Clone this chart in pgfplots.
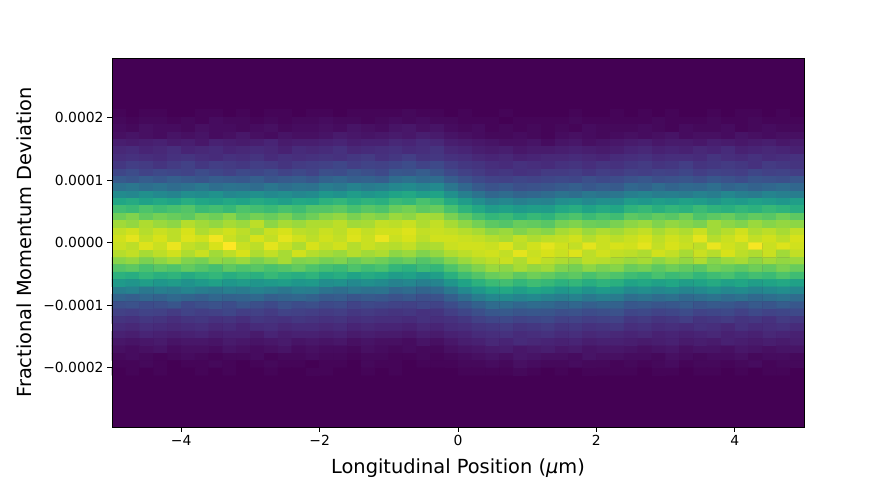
\documentclass[border=0pt]{standalone}
\usepackage{pgfplots}
\pgfplotsset{compat=1.18}
\usepackage{fontspec}
\setmainfont{DejaVu Sans}
\definecolor{vbottom}{HTML}{440154}
\begin{document}
\begin{tikzpicture}[x=1pt,y=1pt]
\path[use as bounding box] (-112,-53) rectangle (781,427);
\begin{axis}[
  at={(0,0)}, anchor=south west,
  scale only axis, width=692pt, height=369pt,
  xmin=-5, xmax=5, ymin=-0.000295, ymax=0.000295,
  axis background/.style={fill=vbottom},
  axis on top, axis line style={line width=0.9pt},
  colormap/viridis, point meta min=0, point meta max=100,
  tick align=outside, xtick pos=bottom, ytick pos=left,
  major tick length=4.9pt,
  tick style={black, line width=0.9pt},
  xtick={-4,-2,0,2,4}, xticklabels={−4,−2,0,2,4},
  ytick={-0.0002,-0.0001,0,0.0001,0.0002},
  yticklabels={−0.0002,−0.0001,0.0000,0.0001,0.0002},
  scaled y ticks=false,
  tick label style={font=\fontsize{13.9}{16}\selectfont},
  xlabel={Longitudinal Position (\textit{μ}m)},
  ylabel={Fractional Momentum Deviation},
  xlabel style={yshift=-6pt},
  ylabel style={yshift=5pt},
  label style={font=\fontsize{19.4}{23}\selectfont},
]
% bin corners: each value colours the cell to its right and below
\addplot[surf, shader=flat corner, mesh/cols=51, mesh/rows=37, point meta=explicit]
table[row sep=crcr, x expr={mod(\coordindex,51)*0.2-5}, y expr={(18-floor((\coordindex+0.5)/51))*1.18e-5}, meta=C] {
C\\
1\\0\\1\\1\\0\\0\\1\\1\\0\\1\\0\\1\\1\\0\\1\\ 1\\0\\1\\1\\1\\ 1\\2\\1\\1\\ 0\\1\\0\\ 0\\1\\0\\0\\0\\ 0\\1\\0\\0\\1\\ 0\\1\\0\\1\\0\\0\\1\\0\\1\\1\\0\\1\\0\\ 0\\
2\\1\\2\\2\\1\\2\\1\\3\\2\\2\\1\\2\\1\\2\\2\\ 3\\2\\2\\1\\2\\ 3\\2\\3\\2\\ 2\\1\\1\\ 1\\0\\1\\1\\1\\ 1\\2\\1\\1\\1\\ 1\\1\\2\\1\\1\\1\\2\\1\\1\\2\\1\\1\\1\\ 1\\
3\\2\\4\\3\\3\\2\\4\\3\\3\\2\\3\\4\\2\\3\\3\\ 4\\3\\5\\4\\3\\ 5\\6\\4\\5\\ 3\\2\\3\\ 1\\2\\1\\2\\1\\ 2\\1\\3\\2\\2\\ 2\\3\\2\\1\\3\\2\\2\\3\\1\\2\\3\\2\\2\\ 2\\
4\\5\\4\\3\\5\\4\\5\\3\\4\\6\\4\\3\\5\\4\\4\\ 5\\7\\6\\5\\6\\ 7\\6\\8\\7\\ 5\\4\\3\\ 2\\2\\3\\2\\1\\ 3\\4\\3\\2\\3\\ 4\\3\\4\\5\\3\\4\\4\\3\\5\\4\\3\\4\\4\\ 4\\
8\\7\\8\\9\\7\\8\\6\\9\\8\\7\\8\\10\\7\\8\\8\\ 9\\10\\8\\9\\9\\ 11\\10\\12\\11\\ 8\\7\\6\\ 5\\4\\4\\5\\3\\ 5\\6\\4\\5\\6\\ 7\\8\\6\\7\\7\\6\\8\\7\\6\\7\\8\\6\\7\\ 7\\
11\\12\\10\\11\\13\\10\\11\\12\\10\\11\\12\\11\\9\\12\\11\\ 12\\14\\11\\12\\13\\ 14\\12\\13\\15\\ 11\\10\\8\\ 7\\8\\6\\7\\7\\ 8\\9\\8\\7\\8\\ 10\\11\\9\\10\\9\\11\\10\\12\\9\\10\\11\\10\\9\\ 10\\
13\\14\\13\\12\\14\\15\\13\\12\\14\\13\\15\\12\\14\\13\\14\\ 15\\14\\16\\17\\14\\ 16\\18\\15\\16\\ 14\\13\\11\\ 10\\11\\9\\10\\11\\ 11\\12\\11\\10\\12\\ 13\\14\\12\\13\\13\\12\\15\\13\\12\\14\\12\\13\\14\\ 13\\
16\\18\\17\\15\\17\\19\\16\\18\\17\\16\\18\\17\\15\\17\\18\\ 19\\21\\18\\20\\19\\ 21\\23\\20\\22\\ 18\\16\\15\\ 13\\12\\14\\13\\12\\ 14\\15\\13\\15\\14\\ 16\\17\\15\\16\\18\\15\\16\\17\\16\\14\\17\\16\\15\\ 16\\
21\\23\\20\\22\\21\\20\\23\\21\\19\\22\\21\\23\\20\\22\\20\\ 24\\23\\26\\24\\22\\ 27\\26\\29\\26\\ 22\\19\\17\\ 15\\16\\14\\15\\17\\ 17\\18\\16\\18\\17\\ 19\\18\\20\\19\\21\\18\\20\\19\\18\\21\\19\\20\\18\\ 19\\
28\\26\\29\\27\\30\\28\\26\\29\\28\\27\\30\\26\\28\\29\\27\\ 31\\33\\30\\31\\29\\ 35\\37\\34\\35\\ 29\\25\\22\\ 20\\19\\21\\20\\21\\ 22\\21\\24\\22\\23\\ 25\\27\\24\\25\\26\\24\\27\\25\\23\\26\\25\\24\\26\\ 25\\
37\\39\\36\\38\\35\\37\\40\\36\\38\\37\\35\\39\\36\\38\\37\\ 42\\40\\44\\41\\43\\ 46\\48\\45\\47\\ 39\\33\\28\\ 25\\27\\24\\25\\26\\ 28\\30\\27\\29\\28\\ 33\\31\\35\\32\\34\\33\\36\\32\\34\\31\\33\\35\\33\\ 33\\
48\\46\\50\\47\\45\\49\\48\\51\\46\\48\\50\\47\\49\\46\\48\\ 53\\51\\55\\52\\54\\ 58\\60\\56\\58\\ 50\\43\\38\\ 33\\35\\32\\33\\35\\ 38\\36\\40\\38\\39\\ 43\\45\\42\\43\\41\\44\\42\\46\\43\\41\\45\\43\\42\\ 43\\
59\\61\\57\\60\\58\\62\\59\\57\\60\\58\\61\\59\\56\\60\\59\\ 64\\66\\62\\65\\63\\ 68\\66\\71\\68\\ 61\\55\\49\\ 44\\46\\43\\45\\44\\ 49\\51\\47\\50\\49\\ 55\\53\\56\\54\\57\\55\\52\\56\\54\\57\\55\\53\\56\\ 55\\
70\\68\\72\\69\\71\\73\\68\\70\\67\\72\\70\\68\\71\\69\\73\\ 73\\75\\71\\74\\72\\ 77\\79\\75\\77\\ 71\\65\\60\\ 55\\57\\54\\56\\55\\ 60\\62\\58\\61\\59\\ 65\\67\\63\\66\\64\\68\\65\\63\\66\\64\\67\\65\\62\\ 65\\
78\\81\\76\\79\\77\\75\\80\\78\\82\\76\\79\\77\\80\\75\\78\\ 82\\84\\80\\83\\81\\ 85\\83\\87\\86\\ 80\\75\\70\\ 66\\68\\64\\67\\65\\ 70\\72\\68\\71\\69\\ 75\\73\\76\\74\\78\\72\\75\\77\\73\\76\\74\\78\\75\\ 75\\
86\\84\\88\\85\\83\\89\\86\\84\\87\\85\\90\\83\\87\\85\\88\\ 88\\90\\86\\87\\91\\ 90\\92\\88\\91\\ 87\\83\\79\\ 75\\73\\77\\76\\74\\ 79\\81\\78\\77\\80\\ 83\\85\\81\\84\\82\\80\\86\\83\\81\\85\\82\\84\\83\\ 83\\
91\\93\\89\\92\\90\\94\\88\\91\\93\\90\\87\\92\\94\\90\\89\\ 92\\90\\94\\91\\93\\ 93\\95\\91\\92\\ 91\\89\\87\\ 83\\85\\81\\84\\82\\ 87\\89\\85\\88\\86\\ 89\\91\\87\\90\\88\\92\\86\\89\\93\\88\\90\\87\\91\\ 89\\
93\\96\\91\\94\\90\\95\\93\\98\\92\\89\\94\\91\\96\\93\\90\\ 93\\91\\95\\92\\97\\ 92\\94\\90\\93\\ 93\\92\\91\\ 89\\87\\91\\88\\90\\ 91\\93\\89\\92\\90\\ 92\\94\\90\\93\\91\\96\\89\\92\\95\\91\\93\\90\\94\\ 92\\
92\\90\\95\\92\\97\\91\\89\\94\\100\\92\\90\\96\\92\\88\\94\\ 91\\93\\89\\92\\90\\ 89\\91\\87\\88\\ 92\\93\\93\\ 92\\95\\90\\93\\96\\ 93\\91\\96\\92\\94\\ 93\\96\\91\\94\\92\\90\\97\\93\\91\\99\\92\\95\\93\\ 93\\
89\\91\\87\\90\\93\\88\\92\\86\\90\\94\\88\\91\\87\\93\\89\\ 87\\85\\89\\86\\88\\ 83\\85\\81\\84\\ 88\\90\\92\\ 93\\91\\96\\92\\94\\ 92\\95\\90\\93\\91\\ 90\\88\\93\\91\\87\\92\\89\\94\\90\\88\\92\\86\\91\\ 90\\
82\\84\\80\\83\\86\\81\\79\\84\\82\\85\\80\\83\\87\\81\\82\\ 79\\81\\77\\80\\78\\ 75\\77\\73\\76\\ 81\\85\\88\\ 90\\92\\88\\93\\90\\ 88\\86\\90\\89\\87\\ 85\\87\\83\\86\\84\\88\\82\\85\\87\\83\\86\\84\\85\\ 85\\
73\\75\\71\\74\\72\\76\\73\\70\\75\\72\\74\\71\\73\\76\\72\\ 70\\68\\72\\69\\71\\ 66\\64\\68\\66\\ 72\\77\\81\\ 85\\83\\87\\84\\86\\ 81\\79\\83\\80\\82\\ 77\\79\\75\\78\\76\\74\\79\\77\\75\\78\\76\\80\\77\\ 77\\
64\\62\\66\\63\\65\\61\\64\\66\\62\\65\\63\\67\\64\\62\\65\\ 60\\62\\58\\61\\59\\ 55\\57\\53\\56\\ 63\\69\\73\\ 77\\79\\75\\78\\76\\ 73\\75\\71\\74\\72\\ 69\\67\\71\\68\\70\\66\\69\\71\\67\\70\\68\\72\\69\\ 69\\
54\\52\\56\\53\\55\\51\\54\\57\\53\\55\\52\\54\\56\\53\\54\\ 49\\51\\47\\50\\48\\ 44\\46\\43\\45\\ 52\\58\\64\\ 68\\70\\66\\69\\67\\ 64\\66\\62\\65\\63\\ 58\\60\\57\\59\\56\\58\\61\\57\\59\\56\\58\\60\\57\\ 58\\
42\\44\\40\\43\\41\\45\\42\\40\\43\\41\\44\\42\\39\\43\\42\\ 38\\36\\39\\37\\38\\ 33\\35\\32\\34\\ 40\\47\\53\\ 58\\60\\56\\59\\57\\ 53\\55\\51\\54\\52\\ 47\\49\\46\\48\\45\\47\\50\\46\\48\\45\\47\\49\\46\\ 47\\
32\\30\\33\\31\\34\\32\\30\\33\\31\\32\\34\\30\\32\\33\\31\\ 28\\29\\26\\28\\27\\ 25\\27\\24\\25\\ 30\\36\\42\\ 46\\48\\45\\47\\44\\ 42\\44\\40\\43\\41\\ 36\\38\\35\\37\\34\\36\\38\\35\\37\\34\\36\\38\\35\\ 36\\
24\\25\\23\\24\\26\\22\\24\\25\\23\\26\\24\\22\\25\\23\\24\\ 22\\23\\20\\22\\21\\ 20\\19\\21\\20\\ 23\\27\\31\\ 35\\36\\33\\35\\34\\ 31\\33\\30\\32\\31\\ 27\\28\\26\\27\\29\\26\\28\\27\\25\\28\\26\\29\\27\\ 27\\
19\\18\\20\\19\\17\\20\\18\\19\\21\\18\\19\\17\\20\\19\\18\\ 17\\18\\16\\17\\16\\ 15\\16\\14\\15\\ 18\\21\\24\\ 27\\28\\26\\27\\26\\ 24\\25\\23\\24\\25\\ 21\\22\\20\\21\\23\\20\\21\\22\\19\\22\\20\\21\\22\\ 21\\
15\\14\\16\\15\\13\\15\\16\\14\\15\\13\\16\\15\\14\\16\\15\\ 14\\15\\13\\14\\13\\ 13\\12\\14\\13\\ 14\\16\\19\\ 21\\22\\20\\21\\22\\ 19\\20\\18\\19\\20\\ 16\\17\\15\\16\\18\\15\\16\\17\\15\\16\\14\\17\\16\\ 16\\
12\\11\\13\\12\\11\\12\\13\\11\\12\\10\\12\\13\\11\\12\\12\\ 11\\12\\10\\11\\10\\ 10\\9\\11\\10\\ 12\\13\\15\\ 16\\17\\15\\16\\17\\ 15\\16\\14\\15\\16\\ 13\\14\\12\\13\\12\\14\\13\\11\\14\\12\\13\\14\\12\\ 13\\
9\\8\\10\\9\\8\\9\\10\\8\\9\\9\\7\\10\\8\\9\\9\\ 8\\9\\7\\8\\7\\ 7\\6\\8\\7\\ 9\\10\\12\\ 13\\14\\12\\13\\14\\ 12\\13\\11\\12\\11\\ 10\\11\\9\\10\\9\\10\\11\\9\\10\\9\\11\\10\\9\\ 10\\
6\\5\\6\\7\\5\\6\\6\\5\\7\\6\\5\\6\\7\\5\\6\\ 5\\6\\4\\5\\4\\ 4\\3\\5\\4\\ 6\\8\\9\\ 11\\10\\12\\11\\10\\ 9\\10\\8\\9\\9\\ 8\\7\\8\\9\\7\\8\\7\\9\\8\\7\\8\\7\\8\\ 8\\
4\\3\\4\\5\\3\\4\\4\\3\\5\\4\\3\\4\\5\\3\\4\\ 3\\3\\2\\4\\3\\ 2\\3\\2\\2\\ 4\\5\\6\\ 7\\8\\6\\7\\8\\ 6\\7\\5\\6\\6\\ 5\\4\\5\\6\\4\\5\\5\\4\\6\\5\\4\\5\\5\\ 5\\
2\\3\\2\\1\\2\\3\\2\\1\\2\\2\\3\\1\\2\\2\\3\\ 2\\2\\1\\2\\2\\ 1\\1\\2\\1\\ 2\\3\\4\\ 5\\4\\6\\5\\4\\ 4\\3\\5\\4\\4\\ 3\\3\\2\\4\\3\\2\\3\\3\\4\\2\\3\\3\\2\\ 3\\
1\\1\\2\\1\\0\\1\\1\\2\\1\\0\\1\\2\\1\\1\\0\\ 1\\1\\0\\2\\1\\ 1\\0\\1\\1\\ 1\\2\\2\\ 3\\2\\4\\3\\2\\ 2\\3\\2\\2\\1\\ 2\\1\\2\\3\\1\\2\\2\\1\\2\\3\\1\\2\\2\\ 2\\
0\\1\\0\\1\\0\\0\\1\\0\\1\\0\\0\\1\\0\\0\\1\\ 1\\0\\0\\1\\0\\ 1\\0\\0\\0\\ 0\\1\\1\\ 1\\1\\2\\1\\0\\ 1\\0\\1\\1\\1\\ 1\\0\\1\\1\\0\\1\\1\\0\\1\\0\\1\\1\\0\\ 1\\
0\\0\\0\\0\\0\\0\\0\\0\\0\\0\\0\\0\\0\\0\\0\\ 0\\0\\0\\0\\0\\ 0\\0\\0\\0\\ 0\\0\\0\\ 0\\0\\0\\0\\0\\ 0\\0\\0\\0\\0\\ 0\\0\\0\\0\\0\\0\\0\\0\\0\\0\\0\\0\\0\\ 0\\
};
\end{axis}
\end{tikzpicture}
\end{document}
